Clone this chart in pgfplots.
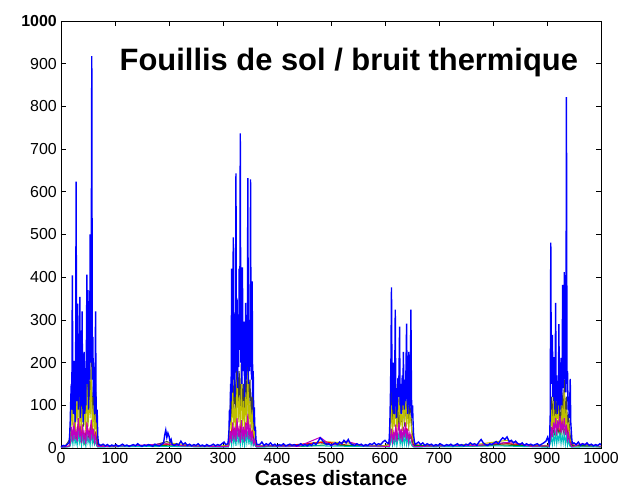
\documentclass[border=0pt]{standalone}
\usepackage{pgfplots}
\pgfplotsset{compat=1.18}
\usepackage{fontspec}
\setmainfont{Liberation Sans}
\definecolor{mb}{rgb}{0,0,1}
\definecolor{mg}{rgb}{0,0.5,0}
\definecolor{mr}{rgb}{1,0,0}
\definecolor{mc}{rgb}{0,0.75,0.75}
\definecolor{mm}{rgb}{0.75,0,0.75}
\definecolor{my}{rgb}{0.75,0.75,0}
\definecolor{mk}{rgb}{0.25,0.25,0.25}
\begin{document}
\begin{tikzpicture}
\begin{axis}[
  scale only axis,
  width=540bp, height=427bp,
  xmin=0, xmax=1000, ymin=0, ymax=1000,
  xtick={0,100,...,1000},
  ytick={0,100,...,1000},
  yticklabels={0,100,200,300,400,500,600,700,800,900,\textbf{1000}},
  /pgf/number format/assume math mode=true,
  /pgf/number format/1000 sep={},
  tick label style={font=\fontsize{16}{18}\selectfont, inner sep=0pt},
  xticklabel shift=4bp,
  yticklabel shift=4bp,
  tick align=inside,
  major tick length=5bp,
  tick style={black, line width=0.6bp},
  axis line style={black, line width=0.8bp},
  xlabel={\textbf{Cases distance}},
  xlabel style={font=\fontsize{21}{24}\selectfont, at={(axis description cs:0.5,0)}, anchor=base, yshift=-37bp},
  clip=true,
]
% dark gray
\addplot[mk, line width=1bp] coordinates {
(0,2)(8,4)
(16,20)(18,60)(20,150)(22,80)(24,120)(26,40)(28,250)(30,90)(32,180)(34,60)(36,140)(38,70)(40,200)(42,50)(44,110)(46,80)(48,230)(50,60)(52,170)(54,90)(56,210)(58,70)(60,130)(62,50)(64,150)(66,40)(68,10)
(76,5)(120,3)(170,6)(196,15)(220,4)(270,5)(300,4)
(310,10)(312,50)(314,120)(316,70)(318,200)(320,90)(322,160)(324,60)(326,250)(328,100)(330,180)(332,70)(334,210)(336,90)(338,150)(340,60)(342,190)(344,80)(346,240)(348,100)(350,160)(352,70)(354,130)(356,40)(358,60)(360,20)(362,5)
(370,5)(420,3)(480,12)(520,6)(560,4)(600,5)
(608,10)(610,60)(612,140)(614,50)(616,110)(618,70)(620,150)(622,60)(624,100)(626,40)(628,130)(630,60)(632,90)(634,120)(636,50)(638,110)(640,70)(642,140)(644,60)(646,100)(648,80)(650,40)(652,20)(654,5)
(660,5)(700,3)(750,4)(800,6)(820,12)(850,5)(900,4)
(904,8)(906,50)(908,120)(910,60)(912,140)(914,50)(916,110)(918,70)(920,150)(922,60)(924,100)(926,40)(928,130)(930,70)(932,160)(934,60)(936,120)(938,50)(940,80)(942,40)(944,20)(946,5)
(950,5)(1000,3)
};
% yellow
\addplot[my, line width=1bp] coordinates {
(0,3)(8,5)
(16,15)(18,40)(20,90)(22,50)(24,140)(26,30)(28,110)(30,60)(32,180)(34,40)(36,100)(38,30)(40,130)(42,60)(44,90)(46,40)(48,150)(50,50)(52,120)(54,70)(56,190)(58,40)(60,100)(62,30)(64,80)(66,25)(68,8)
(80,4)(130,5)(180,3)(198,12)(230,8)(260,4)(300,5)
(310,8)(312,30)(314,80)(316,40)(318,130)(320,50)(322,100)(324,30)(326,160)(328,60)(330,120)(332,40)(334,150)(336,50)(338,110)(340,40)(342,130)(344,60)(346,180)(348,50)(350,110)(352,40)(354,90)(356,30)(358,40)(360,15)(362,5)
(380,4)(430,6)(485,15)(530,12)(570,4)(600,6)
(608,8)(610,40)(612,100)(614,30)(616,80)(618,50)(620,120)(622,40)(624,70)(626,130)(628,50)(630,90)(632,40)(634,110)(636,60)(638,140)(640,50)(642,100)(644,40)(646,80)(648,60)(650,30)(652,15)(654,5)
(670,4)(720,6)(780,10)(826,18)(860,5)(900,6)
(904,6)(906,40)(908,90)(910,30)(912,110)(914,40)(916,80)(918,50)(920,120)(922,40)(924,70)(926,30)(928,100)(930,50)(932,130)(934,40)(936,90)(938,30)(940,60)(942,25)(944,12)(946,4)
(960,5)(1000,4)
};
% red
\addplot[mr, line width=1bp] coordinates {
(0,2)(10,3)
(16,5)(20,30)(24,50)(28,25)(32,60)(36,20)(40,45)(44,15)(48,55)(52,30)(56,60)(60,20)(64,35)(68,5)
(90,3)(150,5)(200,8)(250,4)(300,3)
(310,5)(314,30)(318,50)(322,25)(326,60)(330,30)(334,55)(338,20)(342,50)(346,65)(350,30)(354,40)(358,15)(362,3)
(400,4)(490,14)(540,5)(600,3)
(608,4)(612,35)(616,20)(620,45)(624,25)(628,40)(632,20)(636,35)(640,45)(644,25)(648,30)(652,8)
(690,4)(760,5)(830,10)(900,3)
(904,4)(908,35)(912,50)(916,30)(920,55)(924,35)(928,60)(932,40)(936,50)(940,25)(944,8)
(970,4)(1000,3)
};
% green
\addplot[mg, line width=1bp] coordinates {
(0,2)(10,4)
(16,4)(20,25)(24,40)(28,20)(32,50)(36,18)(40,35)(44,12)(48,45)(52,22)(56,50)(60,15)(64,30)(68,4)
(100,4)(160,6)(210,5)(260,3)(300,4)
(310,4)(314,25)(318,40)(322,20)(326,50)(330,25)(334,45)(338,18)(342,40)(346,55)(350,25)(354,35)(358,10)(362,3)
(390,5)(450,4)(500,8)(550,5)(600,4)
(608,3)(612,28)(616,15)(620,38)(624,20)(628,32)(632,15)(636,30)(640,38)(644,20)(648,25)(652,6)
(680,5)(740,3)(790,8)(840,6)(900,4)
(904,3)(908,28)(912,40)(916,25)(920,45)(924,28)(928,50)(932,32)(936,42)(940,20)(944,6)
(980,5)(1000,3)
};
% cyan
\addplot[mc, line width=1bp] coordinates {
(0,1)(10,2)
(16,3)(18,10)(20,30)(22,8)(24,35)(26,10)(28,20)(30,6)(32,40)(34,12)(36,25)(38,5)(40,30)(42,10)(44,20)(46,4)(48,35)(50,12)(52,22)(54,6)(56,38)(58,10)(60,25)(62,8)(64,15)(66,5)(68,2)
(110,3)(190,4)(240,3)(300,2)
(310,2)(312,10)(314,25)(316,6)(318,35)(320,10)(322,28)(324,5)(326,40)(328,12)(330,25)(332,6)(334,35)(336,10)(338,28)(340,5)(342,32)(344,12)(346,40)(348,8)(350,30)(352,6)(354,20)(356,5)(358,10)(360,4)(362,2)
(410,3)(470,5)(530,4)(600,3)
(608,2)(610,10)(612,25)(614,6)(616,18)(618,8)(620,30)(622,5)(624,20)(626,35)(628,8)(630,25)(632,6)(634,28)(636,10)(638,32)(640,8)(642,25)(644,6)(646,18)(648,10)(650,5)(652,3)(654,2)
(700,3)(810,5)(900,2)
(904,2)(906,10)(908,25)(910,8)(912,30)(914,12)(916,35)(918,10)(920,30)(922,15)(924,38)(926,10)(928,32)(930,12)(932,35)(934,8)(936,30)(938,6)(940,18)(942,5)(944,3)(946,2)
(990,3)(1000,2)
};
% magenta
\addplot[mm, line width=1bp] coordinates {
(0,2)(10,3)
(16,5)(18,20)(20,50)(22,15)(24,60)(26,20)(28,40)(30,15)(32,70)(34,25)(36,45)(38,12)(40,55)(42,20)(44,35)(46,10)(48,60)(50,25)(52,40)(54,15)(56,65)(58,20)(60,45)(62,15)(64,30)(66,10)(68,4)
(85,4)(140,6)(195,10)(225,5)(280,4)(300,3)
(310,4)(312,15)(314,40)(316,12)(318,60)(320,20)(322,50)(324,15)(326,70)(328,25)(330,45)(332,12)(334,65)(336,20)(338,50)(340,15)(342,60)(344,25)(346,80)(348,20)(350,55)(352,15)(354,40)(356,10)(358,20)(360,8)(362,3)
(380,5)(440,4)(480,25)(500,6)(528,16)(560,5)(600,4)
(608,4)(610,20)(612,45)(614,15)(616,35)(618,20)(620,55)(622,15)(624,40)(626,60)(628,20)(630,45)(632,15)(634,50)(636,25)(638,60)(640,20)(642,45)(644,15)(646,35)(648,25)(650,12)(652,6)(654,3)
(690,5)(770,6)(835,14)(870,4)(900,5)
(904,4)(906,20)(908,50)(910,25)(912,60)(914,40)(916,70)(918,30)(920,65)(922,45)(924,75)(926,35)(928,60)(930,40)(932,70)(934,30)(936,55)(938,20)(940,35)(942,15)(944,8)(946,3)
(965,10)(1000,4)
};
% blue
\addplot[mb, line width=1.4bp] coordinates {
(0,3)(4,6)(8,5)(12,9)
(15,12)(16,30)(17,60)(18,110)(19,150)(20,90)(21,404)(22,130)(23,80)(24,204)(25,170)(26,60)(27,140)(28,624)(29,110)(30,180)(31,338)(32,90)(33,250)(34,120)(35,354)(36,70)(37,200)(38,100)(39,320)(40,150)(41,60)(42,130)(43,225)(44,80)(45,170)(46,100)(47,230)(48,406)(49,150)(50,370)(51,90)(52,300)(53,160)(54,500)(55,200)(56,410)(57,918)(58,160)(59,260)(60,120)(61,190)(62,80)(63,140)(64,320)(65,100)(66,60)(67,90)(68,30)(69,15)(70,8)
(74,6)(78,9)(82,5)(86,8)(90,4)(94,7)(98,5)(102,8)(106,4)(110,6)(114,9)(118,5)(122,7)(126,4)(130,6)(134,8)(138,5)(142,10)(146,6)(150,4)(154,7)(158,5)(162,8)(166,6)(170,4)(174,9)(178,6)(182,5)(186,8)(190,12)(192,30)(194,42)(196,25)(198,35)(200,28)(202,15)(204,20)(206,8)(210,6)(214,10)(218,7)(222,16)(226,8)(230,12)(234,6)(238,9)(242,5)(246,8)(250,6)(254,10)(258,5)(262,7)(266,4)(270,8)(274,5)(278,6)(282,9)(286,5)(290,8)(294,6)(298,10)(302,14)(305,8)
(309,10)(310,20)(311,40)(312,90)(313,60)(314,150)(315,110)(316,420)(317,130)(318,200)(319,493)(320,160)(321,250)(322,120)(323,300)(324,643)(325,180)(326,350)(327,140)(328,260)(329,190)(330,420)(331,230)(332,737)(333,200)(334,300)(335,150)(336,423)(337,180)(338,250)(339,296)(340,120)(341,200)(342,340)(343,160)(344,280)(345,190)(346,632)(347,150)(348,300)(349,180)(350,240)(351,629)(352,200)(353,160)(354,390)(355,120)(356,180)(357,60)(358,95)(359,40)(360,50)(361,20)(362,12)(363,8)
(368,8)(372,14)(376,6)(380,10)(384,7)(388,12)(392,6)(396,9)(400,5)(404,8)(408,6)(412,10)(416,5)(420,7)(424,9)(428,6)(432,8)(436,5)(440,7)(444,10)(448,6)(452,8)(456,5)(460,9)(464,6)(468,12)(472,8)(476,15)(480,24)(484,18)(488,12)(492,8)(496,10)(500,6)(504,9)(508,12)(512,8)(516,14)(520,10)(524,18)(528,12)(532,20)(536,10)(540,8)(544,6)(548,10)(552,7)(556,9)(560,5)(564,8)(568,6)(572,10)(576,8)(580,12)(584,7)(588,10)(592,8)(596,14)(600,18)(604,12)
(607,10)(608,25)(609,60)(610,120)(611,207)(612,376)(613,150)(614,90)(615,200)(616,130)(617,80)(618,160)(619,324)(620,110)(621,70)(622,140)(623,90)(624,164)(625,120)(626,180)(627,284)(628,100)(629,150)(630,80)(631,130)(632,170)(633,100)(634,225)(635,140)(636,90)(637,160)(638,110)(639,200)(640,291)(641,120)(642,80)(643,150)(644,225)(645,130)(646,90)(647,180)(648,324)(649,120)(650,70)(651,100)(652,60)(653,30)(654,20)(655,12)(656,8)
(662,14)(666,8)(670,12)(674,6)(678,10)(682,7)(686,9)(690,5)(694,8)(698,6)(702,10)(706,7)(710,5)(714,8)(718,6)(722,9)(726,5)(730,7)(734,10)(738,6)(742,8)(746,5)(750,9)(754,7)(758,12)(762,8)(766,10)(770,6)(774,14)(778,20)(782,12)(786,8)(790,6)(794,10)(798,8)(802,12)(806,15)(810,10)(814,18)(818,24)(822,20)(826,26)(830,15)(834,18)(838,12)(842,16)(846,10)(850,8)(854,12)(858,6)(862,10)(866,7)(870,9)(874,6)(878,8)(882,10)(886,6)(890,9)(894,12)(898,16)(901,25)
(904,10)(905,30)(906,80)(907,481)(908,150)(909,200)(910,265)(911,120)(912,160)(913,213)(914,90)(915,140)(916,340)(917,110)(918,170)(919,80)(920,130)(921,100)(922,290)(923,120)(924,90)(925,150)(926,211)(927,100)(928,180)(929,382)(930,140)(931,200)(932,412)(933,160)(934,250)(935,130)(936,822)(937,150)(938,180)(939,90)(940,120)(941,70)(942,100)(943,162)(944,60)(945,40)(946,20)(947,10)
(950,12)(954,8)(958,14)(962,6)(966,10)(970,7)(974,12)(978,6)(982,9)(986,5)(990,8)(994,6)(998,10)(1000,7)
};
\node[font=\fontsize{31}{34}\selectfont\bfseries, anchor=base] at (rel axis cs:0.533,0.885) {Fouillis de sol / bruit thermique};
\end{axis}
\pgfresetboundingbox
\path[use as bounding box] (current axis.south west) ++(-61bp,-40bp) rectangle ([xshift=20bp,yshift=21bp]current axis.north east);
\end{tikzpicture}
\end{document}
